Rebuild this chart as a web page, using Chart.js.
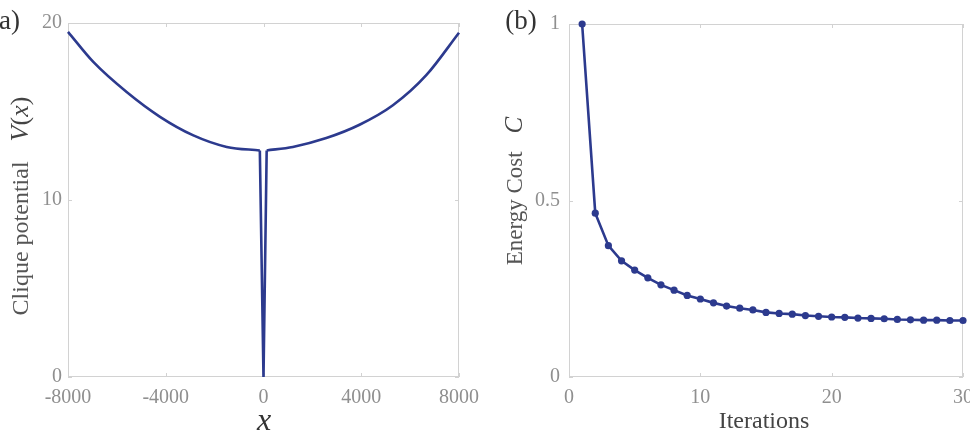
<!DOCTYPE html>
<html>
<head>
<meta charset="utf-8">
<script src="https://cdn.jsdelivr.net/npm/chart.js@4.4.1/dist/chart.umd.min.js"></script>
<style>
  html, body { margin: 0; padding: 0; background: #fff; }
  #wrap { position: relative; width: 970px; height: 434px; overflow: hidden; background: #fff; }
  .cv { position: absolute; top: 0; }
  .lbl { position: absolute; font-family: "Liberation Serif", "DejaVu Serif", serif; white-space: nowrap; color: #444; }
  .rot { transform: translate(-50%, -50%) rotate(-90deg); }
  .ctr { transform: translate(-50%, -50%); }
</style>
</head>
<body>
<div id="wrap">
  <canvas id="c1" class="cv" width="485" height="434" style="left:0px;width:485px;height:434px"></canvas>
  <canvas id="c2" class="cv" width="485" height="434" style="left:485px;width:485px;height:434px"></canvas>

  <div class="lbl ctr" style="left:5px;top:20px;font-size:27px;color:#333;">(a)</div>
  <div class="lbl ctr" style="left:521px;top:20px;font-size:27px;color:#333;">(b)</div>

  <div class="lbl rot" style="left:20px;top:206px;font-size:24px;color:#555;">Clique potential<span style="display:inline-block;width:20px"></span><i style="font-size:26px;color:#444;">V</i><span style="font-size:26px;color:#444;">(<i>x</i>)</span></div>
  <div class="lbl ctr" style="left:264px;top:419px;font-size:32px;font-style:italic;color:#333;">x</div>

  <div class="lbl rot" style="left:514px;top:191px;font-size:23px;color:#555;">Energy Cost<span style="display:inline-block;width:18px"></span><i style="font-size:25px;color:#444;">C</i></div>
  <div class="lbl ctr" style="left:764px;top:420px;font-size:24px;color:#444;">Iterations</div>
</div>

<script>
// ---------- Data: panel (a) clique potential ----------
const leftArmX  = [-8000, -6965, -5600, -4235, -2870, -1505, -150];
const leftArmV  = [19.5, 17.8, 16.1, 14.7, 13.65, 13.0, 12.8];
const dipX      = [-150, 0, 130];
const dipV      = [12.8, 0, 12.8];
const rightArmX = [130, 1200, 2570, 3930, 5295, 6660, 8000];
const rightArmV = [12.8, 13.0, 13.5, 14.25, 15.35, 17.05, 19.45];
const xTicksA   = [-8000, -4000, 0, 4000, 8000];
const yTicksA   = [0, 10, 20];

// ---------- Data: panel (b) energy cost ----------
const iterations = [1,2,3,4,5,6,7,8,9,10,11,12,13,14,15,16,17,18,19,20,21,22,23,24,25,26,27,28,29,30];
const energyCost = [1.0, 0.464, 0.372, 0.329, 0.303, 0.281, 0.261, 0.246, 0.231, 0.221,
                    0.210, 0.201, 0.195, 0.190, 0.183, 0.180, 0.178, 0.174, 0.172, 0.170,
                    0.169, 0.167, 0.166, 0.165, 0.163, 0.162, 0.161, 0.161, 0.160, 0.160];
const xTicksB   = [0, 10, 20, 30];
const yTicksB   = [0, 0.5, 1];

const LINE = '#2c3a8e';
const TICKFONT = { family: '"Liberation Serif", serif', size: 20 };
const TICKCOL = '#8f8f8f';

function pts(xs, ys) { return xs.map((x, i) => ({ x: x, y: ys[i] })); }

// frame + inward tick marks
const framePlugin = {
  id: 'frame',
  beforeDatasetsDraw(chart, args, opts) {
    const { ctx, chartArea: a, scales } = chart;
    ctx.save();
    ctx.strokeStyle = '#d2d2d2';
    ctx.lineWidth = 1;
    ctx.strokeRect(Math.round(a.left) + 0.5, Math.round(a.top) + 0.5,
                   Math.round(a.right - a.left) - 1, Math.round(a.bottom - a.top) - 1);
    const L = 4;
    ctx.beginPath();
    opts.xt.forEach(v => {
      const px = Math.round(scales.x.getPixelForValue(v)) + 0.5;
      ctx.moveTo(px, a.bottom); ctx.lineTo(px, a.bottom - L);
      ctx.moveTo(px, a.top); ctx.lineTo(px, a.top + L);
    });
    opts.yt.forEach(v => {
      const py = Math.round(scales.y.getPixelForValue(v)) + 0.5;
      ctx.moveTo(a.left, py); ctx.lineTo(a.left + L, py);
      ctx.moveTo(a.right, py); ctx.lineTo(a.right - L, py);
    });
    ctx.stroke();
    ctx.restore();
  }
};

function fixX(h) {
  return function (s) { s.height = h; s.paddingLeft = 0; s.paddingRight = 0; };
}
function fixY(w) {
  return function (s) { s.width = w; s.paddingTop = 0; s.paddingBottom = 0; };
}
function tickList(arr) {
  return function (s) { s.ticks = arr.map(v => ({ value: v })); };
}

const armStyle = {
  borderColor: LINE, borderWidth: 2.6, pointRadius: 0, showLine: true,
  fill: false, clip: false
};
const noGrid = { display: false, drawTicks: false };

new Chart(document.getElementById('c1'), {
  type: 'scatter',
  data: {
    datasets: [
      Object.assign({ data: pts(leftArmX, leftArmV), cubicInterpolationMode: 'monotone' }, armStyle),
      Object.assign({ data: pts(dipX, dipV), tension: 0 }, armStyle),
      Object.assign({ data: pts(rightArmX, rightArmV), cubicInterpolationMode: 'monotone' }, armStyle)
    ]
  },
  options: {
    responsive: false, animation: false, devicePixelRatio: 1,
    layout: { padding: { left: 0, right: 26, top: 23, bottom: 0 } },
    plugins: { legend: { display: false }, tooltip: { enabled: false }, frame: { xt: xTicksA, yt: yTicksA } },
    scales: {
      x: {
        type: 'linear', min: -8000, max: 8000,
        afterBuildTicks: tickList(xTicksA),
        afterFit: fixX(57),
        grid: noGrid, border: { display: false },
        ticks: { font: TICKFONT, color: TICKCOL, padding: 9, maxRotation: 0, autoSkip: false,
                 callback: v => String(v) }
      },
      y: {
        type: 'linear', min: 0, max: 20,
        afterBuildTicks: tickList(yTicksA),
        afterFit: fixY(68),
        grid: noGrid, border: { display: false },
        ticks: { font: TICKFONT, color: TICKCOL, padding: 6, callback: v => String(v) }
      }
    }
  },
  plugins: [framePlugin]
});

new Chart(document.getElementById('c2'), {
  type: 'scatter',
  data: {
    datasets: [{
      data: pts(iterations, energyCost),
      showLine: true, borderColor: LINE, borderWidth: 2.6,
      pointRadius: 3.6, pointBackgroundColor: LINE, pointBorderWidth: 0,
      tension: 0, clip: false
    }]
  },
  options: {
    responsive: false, animation: false, devicePixelRatio: 1,
    layout: { padding: { left: 0, right: 7, top: 24, bottom: 0 } },
    plugins: { legend: { display: false }, tooltip: { enabled: false }, frame: { xt: xTicksB, yt: yTicksB } },
    scales: {
      x: {
        type: 'linear', min: 0, max: 30,
        afterBuildTicks: tickList(xTicksB),
        afterFit: fixX(57),
        grid: noGrid, border: { display: false },
        ticks: { font: TICKFONT, color: TICKCOL, padding: 9, maxRotation: 0, autoSkip: false,
                 callback: v => String(v) }
      },
      y: {
        type: 'linear', min: 0, max: 1,
        afterBuildTicks: tickList(yTicksB),
        afterFit: fixY(84),
        grid: noGrid, border: { display: false },
        ticks: { font: TICKFONT, color: TICKCOL, padding: 9, callback: v => String(v) }
      }
    }
  },
  plugins: [framePlugin]
});
</script>
</body>
</html>
